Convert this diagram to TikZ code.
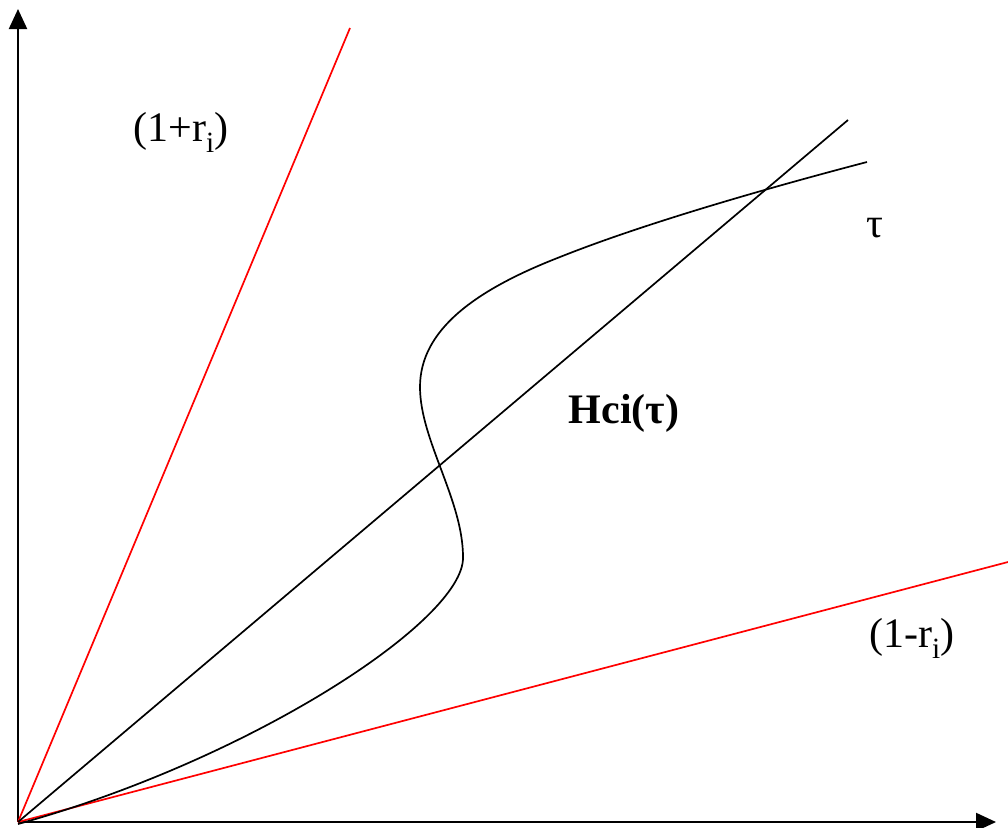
\documentclass[tikz,border=0pt]{standalone}
\usepackage{fontspec}
\setmainfont{Liberation Serif}
\usetikzlibrary{arrows.meta}

\begin{document}
\begin{tikzpicture}[x=1pt,y=-1pt,
   lbl/.style={font=\fontsize{42}{48}\selectfont,inner sep=0pt},
   ax/.style={line width=2.2pt,-{Triangle[length=20pt,width=18pt]}},
   ln/.style={line width=1.7pt}]
  \useasboundingbox (0,0) rectangle (1008,827);
  \coordinate (O) at (18,822);
  \coordinate (ytop) at (18,9);
  \coordinate (xend) at (996,822);
  \coordinate (rup) at (350,28);
  \coordinate (rdown) at (1008,562);
  \coordinate (diag) at (848,120);
  \coordinate (cend) at (867,162);
  % axes
  \draw[ax] (O)--(ytop);
  \draw[ax] (O)--(xend);
  % bounds
  \draw[ln,red] (O)--(rup);
  \draw[ln,red] (O)--(rdown);
  \draw[ln] (O)--(diag);
  % curve
  \draw[ln] (18,824) .. controls (250,760) and (465,620) .. (463,557)
    .. controls (463,500) and (420,440) .. (420,387)
    .. controls (420,330) and (475,290) .. (560,257)
    .. controls (640,225) and (760,190) .. (cend);
  \node[lbl] (up) at (181,132) {(1+r\textsubscript{i})};
  \node[lbl] (down) at (912,638) {(1-r\textsubscript{i})};
  \node[lbl] (tau) at (875,228) {τ};
  \node[lbl] (hci) at (624,413) {\textbf{Hci(τ)}};
\end{tikzpicture}
\end{document}
